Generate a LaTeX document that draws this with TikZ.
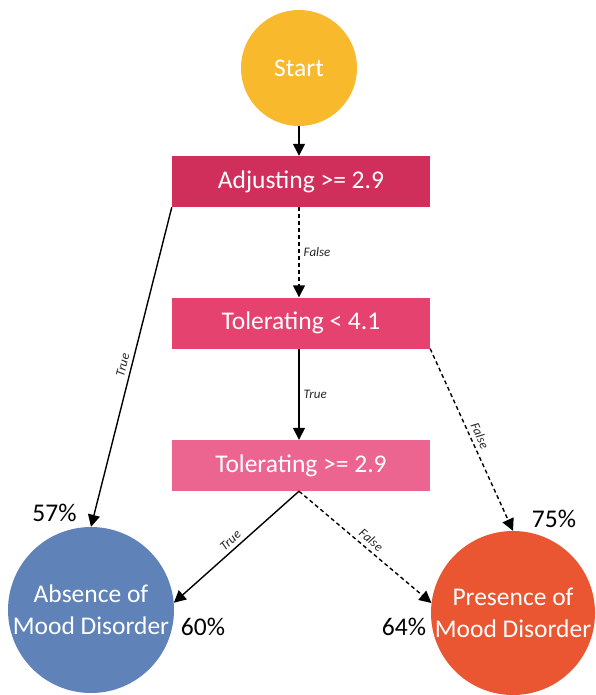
\documentclass[tikz,border=0pt]{standalone}
\usepackage{fontspec}
\setmainfont{Carlito}
\usetikzlibrary{arrows.meta}
\definecolor{cstart}{HTML}{F8B92C}
\definecolor{cadj}{HTML}{D12F5B}
\definecolor{ctolA}{HTML}{E5426F}
\definecolor{ctolB}{HTML}{EB6590}
\definecolor{cabs}{HTML}{5F83B9}
\definecolor{cpres}{HTML}{E95631}
\begin{document}
\begin{tikzpicture}[x=1pt,y=-1pt,
  box/.style={rectangle, minimum width=258pt, minimum height=51pt, text=white,
    font=\fontsize{25.5}{30}\selectfont, inner sep=0pt},
  circ/.style={circle, text=white, align=center, inner sep=0pt,
    font=\fontsize{25.5}{32}\selectfont},
  arr/.style={-{Triangle[length=12pt,width=12pt]}, line width=1.4pt},
  dsh/.style={arr, dash pattern=on 4pt off 3pt},
  lbl/.style={font=\itshape\fontsize{13}{15}\selectfont, text=black!85, inner sep=4pt},
  pct/.style={font=\fontsize{25.5}{30}\selectfont, anchor=base, inner sep=0pt}]
\useasboundingbox (0,0) rectangle (596,695);
\node[circ, fill=cstart, minimum size=116pt] (start) at (299,68) {Start};
\node[box, fill=cadj] (adj) at (301,181.5) {Adjusting >= 2.9};
\node[box, fill=ctolA] (tolA) at (301,323) {Tolerating < 4.1};
\node[box, fill=ctolB] (tolB) at (301,465.5) {Tolerating >= 2.9};
\node[circ, fill=cabs, minimum size=166pt] (abs) at (91,610) {Absence of\\Mood Disorder};
\node[circ, fill=cpres, minimum size=162pt] (pres) at (513,613) {Presence of\\Mood Disorder};
\node[pct] (p57) at (54.5,521) {57\%};
\node[pct] (p75) at (554,527) {75\%};
\node[pct] (p60) at (203,635) {60\%};
\node[pct] (p64) at (404,635) {64\%};
\draw[arr] (start) -- (start |- adj.north);
\draw[dsh] (start |- adj.south) -- node[lbl, right] {False} (start |- tolA.north);
\draw[arr] (start |- tolA.south) -- node[lbl, right] {True} (start |- tolB.north);
\draw[arr] (adj.south west) -- node[lbl, sloped, above] {True} (abs.north);
\draw[dsh] (tolA.south east) -- node[lbl, sloped, above] {False} (pres.north);
\draw[arr] (start |- tolB.south) -- node[lbl, sloped, above] {True} (abs.5);
\draw[dsh] (start |- tolB.south) -- node[lbl, sloped, above] {False} (pres.173);
\end{tikzpicture}
\end{document}
